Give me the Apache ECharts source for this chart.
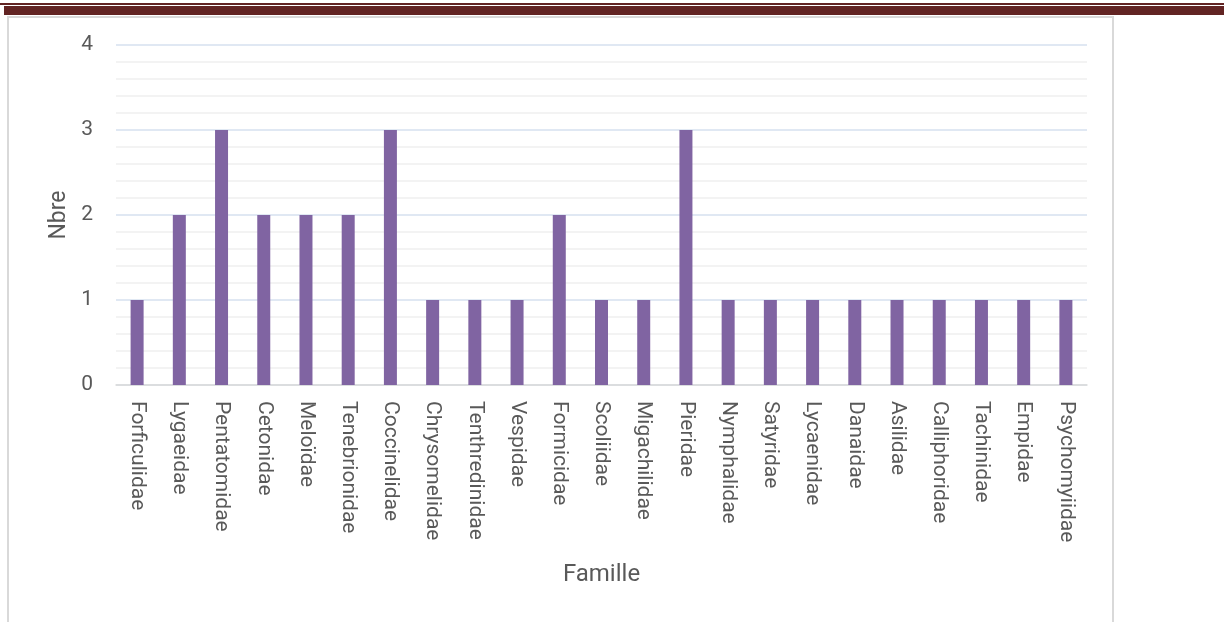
<!DOCTYPE html>
<html><head><meta charset="utf-8">
<script src="https://cdn.jsdelivr.net/npm/echarts@6/dist/echarts.min.js"></script>
<style>
html,body{margin:0;padding:0;background:#fff;}
#wrap{position:relative;width:1224px;height:622px;overflow:hidden;}
#l1{position:absolute;left:0;top:3px;width:1224px;height:2px;background:#622423;}
#l2{position:absolute;left:4px;top:6px;width:1220px;height:9px;background:#622423;}
#frame{position:absolute;left:7px;top:16px;width:1107px;height:620px;border-left:2px solid #d9d9d9;border-top:2px solid #d9d9d9;border-right:2px solid #d9d9d9;box-sizing:border-box;}
#chart{position:absolute;left:0;top:0;width:1224px;height:622px;}
</style></head>
<body><div id="wrap"><div id="l1"></div><div id="l2"></div><div id="frame"></div><div id="chart"></div></div>
<script>
const categories = ["Forficulidae","Lygaeidae","Pentatomidae","Cetonidae","Meloïdae","Tenebrionidae","Coccinelidae","Chrysomelidae","Tenthredinidae","Vespidae","Formicidae","Scoliidae","Migachilidae","Pieridae","Nymphalidae","Satyridae","Lycaenidae","Danaidae","Asilidae","Calliphoridae","Tachinidae","Empidae","Psychomyiidae"];
const counts = [1,2,3,2,2,2,3,1,1,1,2,1,1,3,1,1,1,1,1,1,1,1,1];
const yTicks = [0,1,2,3,4];

const chart = echarts.init(document.getElementById('chart'), null, {renderer:'canvas'});
const font = "Roboto, 'Liberation Sans', sans-serif";
chart.setOption({
  animation:false,
  grid:{left:116,right:137,top:45,bottom:237,containLabel:false},
  xAxis:{
    type:'category', data:categories,
    name:'Famille', nameLocation:'middle', nameGap:178,
    nameTextStyle:{fontFamily:font,fontSize:24,color:'#595959'},
    axisLine:{lineStyle:{color:'#d9d9d9',width:1.5}},
    axisTick:{show:false},
    axisLabel:{rotate:-90,interval:0,margin:16,fontFamily:font,fontSize:21,color:'#595959'}
  },
  yAxis:{
    type:'value', min:yTicks[0], max:yTicks[yTicks.length-1], interval:1,
    name:'Nbre', nameLocation:'middle', nameGap:45, nameRotate:90,
    nameTextStyle:{fontFamily:font,fontSize:23,color:'#595959'},
    axisLine:{show:false}, axisTick:{show:false},
    axisLabel:{margin:23,fontFamily:font,fontSize:21,color:'#595959'},
    splitLine:{lineStyle:{color:'#d6e0ef',width:1.5}},
    minorTick:{show:false,splitNumber:5},
    minorSplitLine:{show:true,lineStyle:{color:'#efefef',width:1.5}}
  },
  series:[{type:'bar',data:counts,barWidth:13,itemStyle:{color:'#8064a2'}}]
});
</script></body></html>
